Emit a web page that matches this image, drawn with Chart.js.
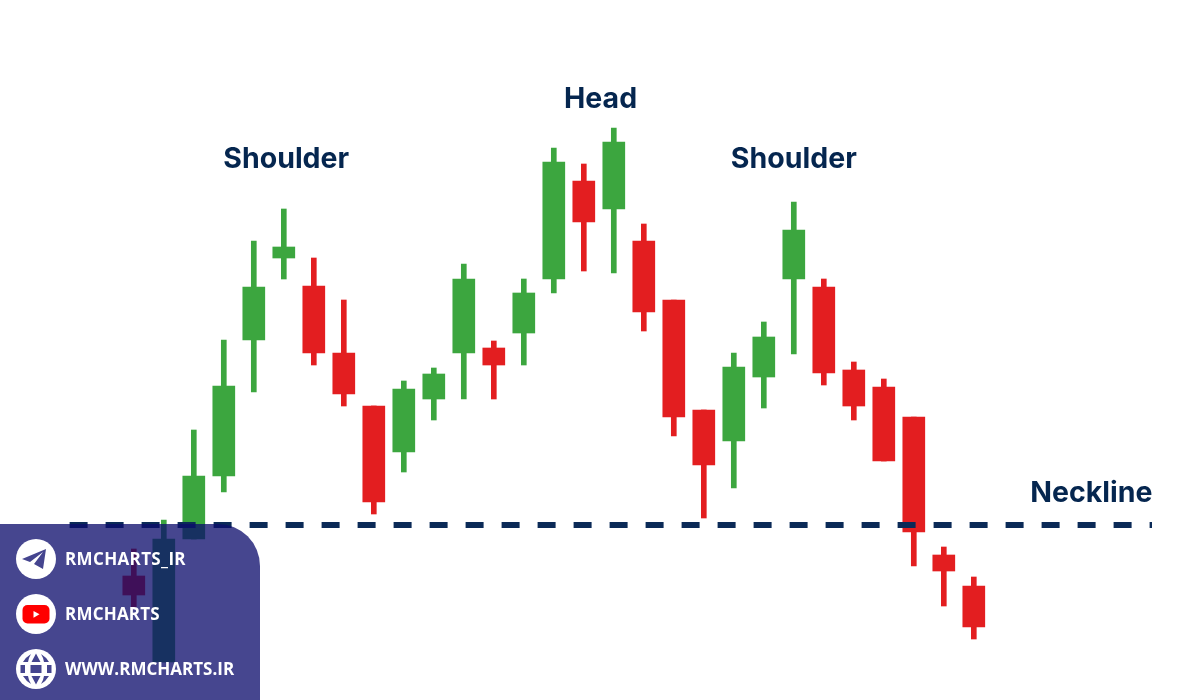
<!DOCTYPE html>
<html>
<head>
<meta charset="utf-8">
<style>
html,body{margin:0;padding:0;background:#fff;width:1200px;height:700px;overflow:hidden}
#wrap{position:relative;width:1200px;height:700px}
canvas{position:absolute;left:0;top:0}
#panel{position:absolute;left:0;top:524px;width:260px;height:176px;background:rgba(12,12,108,.76);border-top-right-radius:42px;}
#panel svg{position:absolute;left:16px;width:40px;height:40px}
#panel span{position:absolute;left:65px;color:#fff;font:700 17px/20px "Open Sans",sans-serif;white-space:nowrap}
</style>
</head>
<body>
<div id="wrap">
<canvas id="c" width="1200" height="700" style="width:1200px;height:700px"></canvas>
<div id="panel">
<svg style="top:15px" viewBox="0 0 40 40"><circle cx="20" cy="20" r="20" fill="#fff"/><path d="M30 10 L6 20 L14 23 L27 13 L18 25 L27 30 Z" fill="#45458f"/></svg>
<span style="top:25px;letter-spacing:.35px">RMCHARTS_IR</span>
<svg style="top:70px" viewBox="0 0 40 40"><circle cx="20" cy="20" r="20" fill="#fff"/><rect x="6.500" y="11" width="27" height="18.500" rx="5" fill="#f00"/><path d="M17.500 17 L23.500 20.300 L17.500 23.700 Z" fill="#fff"/></svg>
<span style="top:80px;letter-spacing:.2px">RMCHARTS</span>
<svg style="top:125px" viewBox="0 0 40 40"><circle cx="20" cy="20" r="20" fill="#fff"/><path fill="#45458f" d="M4.500 16H9V24H4.500Z M14.500 16H25.500V24H14.500Z M31 16H35.500V24H31Z M20 4.500L24.500 13H15.500Z M20 35.500L24.500 27H15.500Z M7 13Q10 8 15 5Q12.500 9 12 13Z M33 13Q30 8 25 5Q27.500 9 28 13Z M7 27Q10 32 15 35Q12.500 31 12 27Z M33 27Q30 32 25 35Q27.500 31 28 27Z"/></svg>
<span style="top:135px">WWW.RMCHARTS.IR</span>
</div>
</div>
<script src="https://cdn.jsdelivr.net/npm/chart.js@4/dist/chart.umd.min.js"></script>
<script>
const candles = [0,1,2,3,4,5,6,7,8,9,10,11,12,13,14,15,16,17,18,19,20,21,22,23,24,25,26,27,28];
const opens  = [124,38,161,224,360,442,414,347,294,248,301,347,352,367,421,519,491,459,400,290,259,323,421,413,330,313,283,145,114];
const closes = [105,161,224,314,413,453,347,306,198,311,326,421,335,407,538,478,558,388,283,235,333,363,470,327,294,239,168,129,73];
const highs  = [151,180,270,360,459,491,442,400,294,319,332,436,359,421,552,536,572,476,400,290,347,378,498,421,338,321,283,153,123];
const lows   = [93,38,161,208,308,421,335,294,186,228,280,301,301,335,407,429,427,369,264,182,212,292,346,315,280,239,134,94,61];
const necklineLevel = 175;
const necklineSpan = [-2.14, 33.94];
const labelTexts = ["Shoulder","Head","Shoulder","Neckline"];
const labelIndex = [5.08,15.56,22.0,31.92];
const labelLevels = [541,601,541,207];

const UP='#3ca63f', DOWN='#e31e20', NAVY='#05264f';
const colors = candles.map((_,i)=> closes[i]>=opens[i] ? UP : DOWN);

const labelPlugin = {
  id:'patternLabels',
  afterDatasetsDraw(chart){
    const {ctx,scales:{x,y}} = chart;
    ctx.save();
    ctx.fillStyle=NAVY;
    ctx.font='700 28.5px Inter, sans-serif';
    ctx.textAlign='center';
    ctx.textBaseline='middle';
    labelTexts.forEach((t,i)=>ctx.fillText(t,x.getPixelForValue(labelIndex[i]),y.getPixelForValue(labelLevels[i])));
    ctx.restore();
  }
};

new Chart(document.getElementById('c'),{
  data:{
    datasets:[
      {type:'line',label:'Neckline',order:0,data:necklineSpan.map(v=>({x:v,y:necklineLevel})),
       borderColor:'#0b2a57',borderWidth:6,borderDash:[18,18],pointRadius:0,fill:false,tension:0},
      {type:'bar',label:'Body',order:1,grouped:false,barThickness:22,borderWidth:0,
       data:candles.map((c,i)=>({x:c,y:[opens[i],closes[i]]})),backgroundColor:colors},
      {type:'bar',label:'Wick',order:2,grouped:false,barThickness:5,borderWidth:0,
       data:candles.map((c,i)=>({x:c,y:[lows[i],highs[i]]})),backgroundColor:colors}
    ]
  },
  options:{
    responsive:false,
    animation:false,
    devicePixelRatio:1,
    layout:{padding:0},
    plugins:{legend:{display:false},tooltip:{enabled:false}},
    scales:{
      x:{type:'linear',display:false,offset:false,min:-4.46,max:35.54},
      y:{display:false,min:0,max:700}
    }
  },
  plugins:[labelPlugin]
});
</script>
</body>
</html>
